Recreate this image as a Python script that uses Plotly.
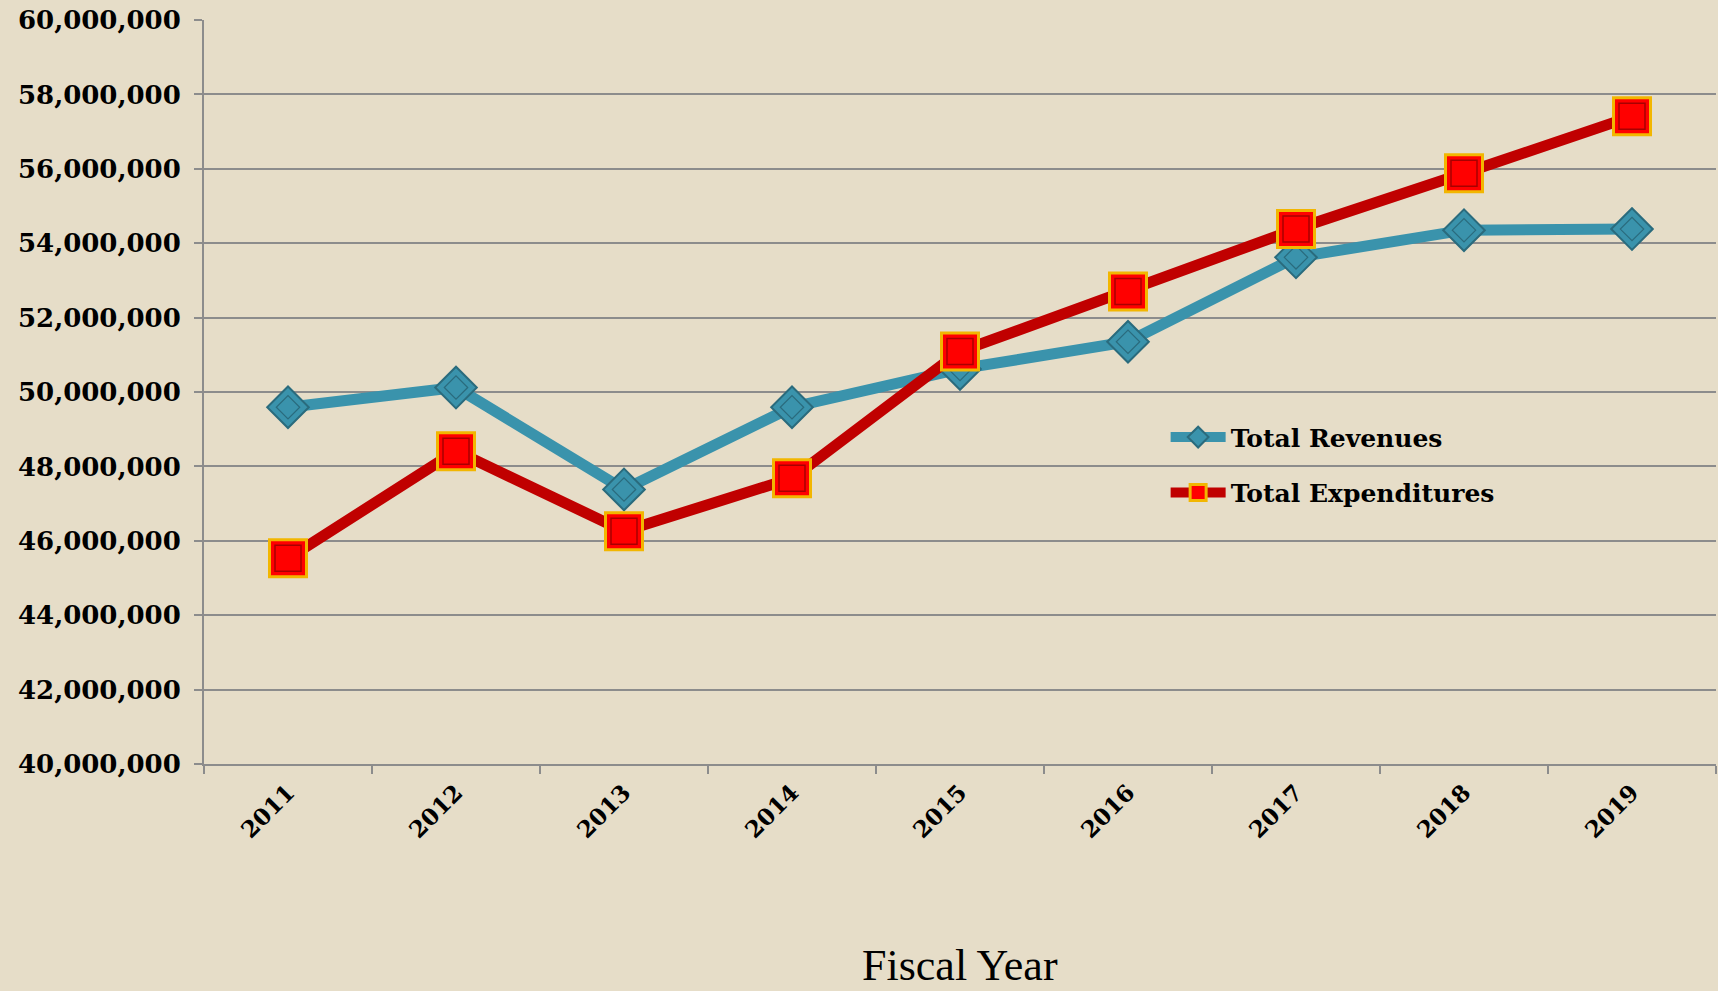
import plotly.graph_objects as go

years = ["2011", "2012", "2013", "2014", "2015", "2016", "2017", "2018", "2019"]
revenues = [49590000, 50120000, 47380000, 49590000, 50620000, 51350000, 53620000, 54350000, 54380000]
expenditures = [45530000, 48410000, 46260000, 47680000, 51090000, 52700000, 54380000, 55880000, 57410000]
y_ticks = [40000000 + 2000000 * i for i in range(11)]

BG = "#E6DDC8"
TEAL = "#3A93AC"
RED = "#C00000"

fig = go.Figure()

fig.add_trace(go.Scatter(
    x=years, y=revenues, name="Total Revenues", mode="lines+markers",
    legendgroup="rev",
    line=dict(color=TEAL, width=11),
    marker=dict(symbol="diamond", size=32, color=TEAL, line=dict(color="#2A6B7D", width=2)),
))
fig.add_trace(go.Scatter(
    x=years, y=revenues, mode="markers", showlegend=False, hoverinfo="skip",
    marker=dict(symbol="diamond-open", size=18, color="#2A6B7D", line=dict(color="#2A6B7D", width=1.2)),
))
fig.add_trace(go.Scatter(
    x=years, y=expenditures, name="Total Expenditures", mode="lines+markers",
    legendgroup="exp",
    line=dict(color=RED, width=11),
    marker=dict(symbol="square", size=37, color="#FF0000", line=dict(color="#F2B600", width=3)),
))
fig.add_trace(go.Scatter(
    x=years, y=expenditures, mode="markers", showlegend=False, hoverinfo="skip",
    marker=dict(symbol="square-open", size=26, color="#A80000", line=dict(color="#A80000", width=1.5)),
))

fig.update_layout(
    width=1718, height=991,
    paper_bgcolor=BG, plot_bgcolor=BG,
    margin=dict(l=204, r=2, t=20, b=227),
    font=dict(family="DejaVu Serif", color="#000000"),
    showlegend=True,
    legend=dict(
        x=0.636, y=0.47, xanchor="left", yanchor="top",
        bgcolor="rgba(0,0,0,0)",
        font=dict(family="DejaVu Serif", size=25, weight="bold", color="#000000"),
        traceorder="grouped", tracegroupgap=20,
        itemwidth=55,
    ),
    annotations=[dict(
        text="Fiscal Year", x=0.5, y=-0.2715, xref="paper", yref="paper",
        xanchor="center", yanchor="middle", showarrow=False,
        font=dict(family="Liberation Serif", size=44, color="#000000"),
    )],
)

fig.update_xaxes(
    type="category", range=[-0.5, 8.5],
    showgrid=False,
    showline=True, linecolor="#8C8C8C", linewidth=2,
    ticks="outside", tickson="boundaries", ticklen=8, tickcolor="#8C8C8C", tickwidth=2,
    tickangle=-45, ticklabelstandoff=4,
    tickfont=dict(family="DejaVu Serif", size=23, weight="bold", color="#000000"),
)
fig.update_yaxes(
    range=[40000000, 60000000],
    tickvals=y_ticks, tickformat=",",
    showgrid=True, gridcolor="#8C8C8C", gridwidth=1.5,
    showline=True, linecolor="#8C8C8C", linewidth=2,
    ticks="outside", ticklen=8, tickcolor="#8C8C8C", tickwidth=2,
    ticklabelstandoff=8,
    zeroline=False,
    tickfont=dict(family="DejaVu Serif", size=26, weight="bold", color="#000000"),
)

fig.write_html(
    "out.html",
    config={"displayModeBar": False},
    post_script="document.body.style.margin='0';document.body.style.background='#E6DDC8';",
)
